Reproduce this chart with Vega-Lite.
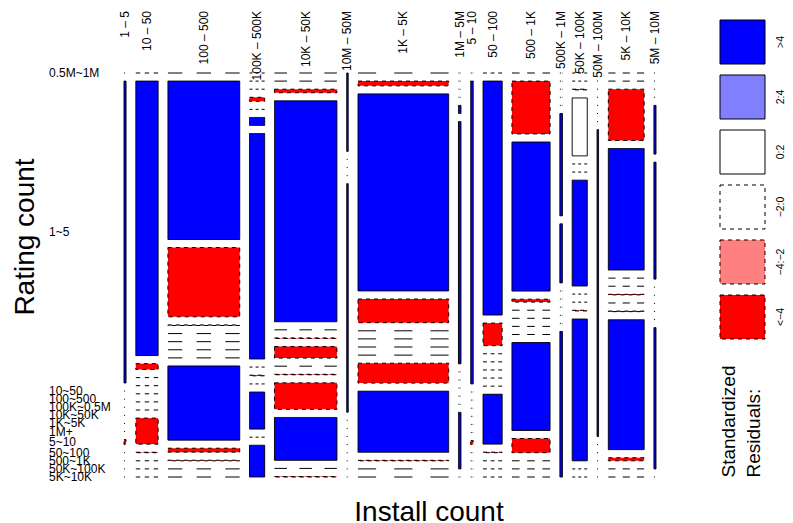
{
  "$schema": "https://vega.github.io/schema/vega-lite/v6.json",
  "autosize": {"type": "pad"},
  "padding": {"left": 11, "top": 11, "right": 0, "bottom": 0},
  "background": "white",
  "config": {"font": "Liberation Sans", "view": {"stroke": null}},
  "spacing": 57,
  "hconcat": [
    {
      "width": 532,
      "height": 457,
      "data": {"values": [
        {"install":"1 – 5","rating":"0.5M~1M","count":0,"residual":"−2:0"},
        {"install":"1 – 5","rating":"1~5","count":61,"residual":">4"},
        {"install":"1 – 5","rating":"10~50","count":0,"residual":"−2:0"},
        {"install":"1 – 5","rating":"100~500","count":0,"residual":"−2:0"},
        {"install":"1 – 5","rating":"100K~0.5M","count":0,"residual":"−2:0"},
        {"install":"1 – 5","rating":"10K~50K","count":0,"residual":"−2:0"},
        {"install":"1 – 5","rating":"1K~5K","count":0,"residual":"−2:0"},
        {"install":"1 – 5","rating":"1M+","count":0,"residual":"−2:0"},
        {"install":"1 – 5","rating":"5~10","count":1,"residual":"<−4"},
        {"install":"1 – 5","rating":"50~100","count":0,"residual":"−2:0"},
        {"install":"1 – 5","rating":"500~1K","count":0,"residual":"−2:0"},
        {"install":"1 – 5","rating":"50K~100K","count":0,"residual":"−2:0"},
        {"install":"1 – 5","rating":"5K~10K","count":0,"residual":"−2:0"},

        {"install":"10 – 50","rating":"0.5M~1M","count":0,"residual":"−2:0"},
        {"install":"10 – 50","rating":"1~5","count":611,"residual":">4"},
        {"install":"10 – 50","rating":"10~50","count":13,"residual":"<−4"},
        {"install":"10 – 50","rating":"100~500","count":0,"residual":"−2:0"},
        {"install":"10 – 50","rating":"100K~0.5M","count":0,"residual":"−2:0"},
        {"install":"10 – 50","rating":"10K~50K","count":0,"residual":"−2:0"},
        {"install":"10 – 50","rating":"1K~5K","count":0,"residual":"−2:0"},
        {"install":"10 – 50","rating":"1M+","count":0,"residual":"−2:0"},
        {"install":"10 – 50","rating":"5~10","count":58,"residual":"<−4"},
        {"install":"10 – 50","rating":"50~100","count":1,"residual":"<−4"},
        {"install":"10 – 50","rating":"500~1K","count":0,"residual":"−2:0"},
        {"install":"10 – 50","rating":"50K~100K","count":0,"residual":"−2:0"},
        {"install":"10 – 50","rating":"5K~10K","count":0,"residual":"−2:0"},

        {"install":"100 – 500","rating":"0.5M~1M","count":0,"residual":"−2:0"},
        {"install":"100 – 500","rating":"1~5","count":1134,"residual":">4"},
        {"install":"100 – 500","rating":"10~50","count":496,"residual":"<−4"},
        {"install":"100 – 500","rating":"100~500","count":4,"residual":"<−4"},
        {"install":"100 – 500","rating":"100K~0.5M","count":0,"residual":"−2:0"},
        {"install":"100 – 500","rating":"10K~50K","count":0,"residual":"−2:0"},
        {"install":"100 – 500","rating":"1K~5K","count":0,"residual":"−2:0"},
        {"install":"100 – 500","rating":"1M+","count":0,"residual":"−2:0"},
        {"install":"100 – 500","rating":"5~10","count":531,"residual":">4"},
        {"install":"100 – 500","rating":"50~100","count":28,"residual":"<−4"},
        {"install":"100 – 500","rating":"500~1K","count":4,"residual":"<−4"},
        {"install":"100 – 500","rating":"50K~100K","count":0,"residual":"−2:0"},
        {"install":"100 – 500","rating":"5K~10K","count":0,"residual":"−2:0"},

        {"install":"100K – 500K","rating":"0.5M~1M","count":0,"residual":"−2:0"},
        {"install":"100K – 500K","rating":"1~5","count":0,"residual":"−2:0"},
        {"install":"100K – 500K","rating":"10~50","count":0,"residual":"−2:0"},
        {"install":"100K – 500K","rating":"100~500","count":6,"residual":"<−4"},
        {"install":"100K – 500K","rating":"100K~0.5M","count":0,"residual":"−2:0"},
        {"install":"100K – 500K","rating":"10K~50K","count":12,"residual":">4"},
        {"install":"100K – 500K","rating":"1K~5K","count":341,"residual":">4"},
        {"install":"100K – 500K","rating":"1M+","count":0,"residual":"−2:0"},
        {"install":"100K – 500K","rating":"5~10","count":1,"residual":"<−4"},
        {"install":"100K – 500K","rating":"50~100","count":0,"residual":"−2:0"},
        {"install":"100K – 500K","rating":"500~1K","count":56,"residual":">4"},
        {"install":"100K – 500K","rating":"50K~100K","count":0,"residual":"−2:0"},
        {"install":"100K – 500K","rating":"5K~10K","count":48,"residual":">4"},

        {"install":"10K – 50K","rating":"0.5M~1M","count":0,"residual":"−2:0"},
        {"install":"10K – 50K","rating":"1~5","count":0,"residual":"−2:0"},
        {"install":"10K – 50K","rating":"10~50","count":22,"residual":"<−4"},
        {"install":"10K – 50K","rating":"100~500","count":1376,"residual":">4"},
        {"install":"10K – 50K","rating":"100K~0.5M","count":0,"residual":"−2:0"},
        {"install":"10K – 50K","rating":"10K~50K","count":3,"residual":"<−4"},
        {"install":"10K – 50K","rating":"1K~5K","count":72,"residual":"<−4"},
        {"install":"10K – 50K","rating":"1M+","count":0,"residual":"−2:0"},
        {"install":"10K – 50K","rating":"5~10","count":3,"residual":"<−4"},
        {"install":"10K – 50K","rating":"50~100","count":165,"residual":"<−4"},
        {"install":"10K – 50K","rating":"500~1K","count":267,"residual":">4"},
        {"install":"10K – 50K","rating":"50K~100K","count":0,"residual":"−2:0"},
        {"install":"10K – 50K","rating":"5K~10K","count":3,"residual":"<−4"},

        {"install":"10M – 50M","rating":"0.5M~1M","count":12,"residual":">4"},
        {"install":"10M – 50M","rating":"1~5","count":0,"residual":"−2:0"},
        {"install":"10M – 50M","rating":"10~50","count":0,"residual":"−2:0"},
        {"install":"10M – 50M","rating":"100~500","count":0,"residual":"−2:0"},
        {"install":"10M – 50M","rating":"100K~0.5M","count":35,"residual":">4"},
        {"install":"10M – 50M","rating":"10K~50K","count":0,"residual":"−2:0"},
        {"install":"10M – 50M","rating":"1K~5K","count":0,"residual":"−2:0"},
        {"install":"10M – 50M","rating":"1M+","count":0,"residual":"−2:0"},
        {"install":"10M – 50M","rating":"5~10","count":0,"residual":"−2:0"},
        {"install":"10M – 50M","rating":"50~100","count":0,"residual":"−2:0"},
        {"install":"10M – 50M","rating":"500~1K","count":0,"residual":"−2:0"},
        {"install":"10M – 50M","rating":"50K~100K","count":0,"residual":"−2:0"},
        {"install":"10M – 50M","rating":"5K~10K","count":0,"residual":"−2:0"},

        {"install":"1K – 5K","rating":"0.5M~1M","count":0,"residual":"−2:0"},
        {"install":"1K – 5K","rating":"1~5","count":43,"residual":"<−4"},
        {"install":"1K – 5K","rating":"10~50","count":1781,"residual":">4"},
        {"install":"1K – 5K","rating":"100~500","count":214,"residual":"<−4"},
        {"install":"1K – 5K","rating":"100K~0.5M","count":0,"residual":"−2:0"},
        {"install":"1K – 5K","rating":"10K~50K","count":0,"residual":"−2:0"},
        {"install":"1K – 5K","rating":"1K~5K","count":0,"residual":"−2:0"},
        {"install":"1K – 5K","rating":"1M+","count":0,"residual":"−2:0"},
        {"install":"1K – 5K","rating":"5~10","count":180,"residual":"<−4"},
        {"install":"1K – 5K","rating":"50~100","count":552,"residual":">4"},
        {"install":"1K – 5K","rating":"500~1K","count":4,"residual":"<−4"},
        {"install":"1K – 5K","rating":"50K~100K","count":0,"residual":"−2:0"},
        {"install":"1K – 5K","rating":"5K~10K","count":0,"residual":"−2:0"},

        {"install":"1M – 5M","rating":"0.5M~1M","count":0,"residual":"−2:0"},
        {"install":"1M – 5M","rating":"1~5","count":0,"residual":"−2:0"},
        {"install":"1M – 5M","rating":"10~50","count":0,"residual":"−2:0"},
        {"install":"1M – 5M","rating":"100~500","count":0,"residual":"−2:0"},
        {"install":"1M – 5M","rating":"100K~0.5M","count":2,"residual":">4"},
        {"install":"1M – 5M","rating":"10K~50K","count":60,"residual":">4"},
        {"install":"1M – 5M","rating":"1K~5K","count":0,"residual":"−2:0"},
        {"install":"1M – 5M","rating":"1M+","count":0,"residual":"−2:0"},
        {"install":"1M – 5M","rating":"5~10","count":0,"residual":"−2:0"},
        {"install":"1M – 5M","rating":"50~100","count":0,"residual":"−2:0"},
        {"install":"1M – 5M","rating":"500~1K","count":0,"residual":"−2:0"},
        {"install":"1M – 5M","rating":"50K~100K","count":14,"residual":">4"},
        {"install":"1M – 5M","rating":"5K~10K","count":0,"residual":"−2:0"},

        {"install":"5 – 10","rating":"0.5M~1M","count":0,"residual":"−2:0"},
        {"install":"5 – 10","rating":"1~5","count":76,"residual":">4"},
        {"install":"5 – 10","rating":"10~50","count":0,"residual":"−2:0"},
        {"install":"5 – 10","rating":"100~500","count":0,"residual":"−2:0"},
        {"install":"5 – 10","rating":"100K~0.5M","count":0,"residual":"−2:0"},
        {"install":"5 – 10","rating":"10K~50K","count":0,"residual":"−2:0"},
        {"install":"5 – 10","rating":"1K~5K","count":0,"residual":"−2:0"},
        {"install":"5 – 10","rating":"1M+","count":0,"residual":"−2:0"},
        {"install":"5 – 10","rating":"5~10","count":1,"residual":"<−4"},
        {"install":"5 – 10","rating":"50~100","count":0,"residual":"−2:0"},
        {"install":"5 – 10","rating":"500~1K","count":0,"residual":"−2:0"},
        {"install":"5 – 10","rating":"50K~100K","count":0,"residual":"−2:0"},
        {"install":"5 – 10","rating":"5K~10K","count":0,"residual":"−2:0"},

        {"install":"50 – 100","rating":"0.5M~1M","count":0,"residual":"−2:0"},
        {"install":"50 – 100","rating":"1~5","count":446,"residual":">4"},
        {"install":"50 – 100","rating":"10~50","count":43,"residual":"<−4"},
        {"install":"50 – 100","rating":"100~500","count":0,"residual":"−2:0"},
        {"install":"50 – 100","rating":"100K~0.5M","count":0,"residual":"−2:0"},
        {"install":"50 – 100","rating":"10K~50K","count":0,"residual":"−2:0"},
        {"install":"50 – 100","rating":"1K~5K","count":0,"residual":"−2:0"},
        {"install":"50 – 100","rating":"1M+","count":0,"residual":"−2:0"},
        {"install":"50 – 100","rating":"5~10","count":95,"residual":">4"},
        {"install":"50 – 100","rating":"50~100","count":1,"residual":"<−4"},
        {"install":"50 – 100","rating":"500~1K","count":0,"residual":"−2:0"},
        {"install":"50 – 100","rating":"50K~100K","count":0,"residual":"−2:0"},
        {"install":"50 – 100","rating":"5K~10K","count":0,"residual":"−2:0"},

        {"install":"500 – 1K","rating":"0.5M~1M","count":0,"residual":"−2:0"},
        {"install":"500 – 1K","rating":"1~5","count":201,"residual":"<−4"},
        {"install":"500 – 1K","rating":"10~50","count":567,"residual":">4"},
        {"install":"500 – 1K","rating":"100~500","count":11,"residual":"<−4"},
        {"install":"500 – 1K","rating":"100K~0.5M","count":0,"residual":"−2:0"},
        {"install":"500 – 1K","rating":"10K~50K","count":0,"residual":"−2:0"},
        {"install":"500 – 1K","rating":"1K~5K","count":0,"residual":"−2:0"},
        {"install":"500 – 1K","rating":"1M+","count":0,"residual":"−2:0"},
        {"install":"500 – 1K","rating":"5~10","count":334,"residual":">4"},
        {"install":"500 – 1K","rating":"50~100","count":54,"residual":"<−4"},
        {"install":"500 – 1K","rating":"500~1K","count":0,"residual":"−2:0"},
        {"install":"500 – 1K","rating":"50K~100K","count":0,"residual":"−2:0"},
        {"install":"500 – 1K","rating":"5K~10K","count":0,"residual":"−2:0"},

        {"install":"500K – 1M","rating":"0.5M~1M","count":0,"residual":"−2:0"},
        {"install":"500K – 1M","rating":"1~5","count":0,"residual":"−2:0"},
        {"install":"500K – 1M","rating":"10~50","count":0,"residual":"−2:0"},
        {"install":"500K – 1M","rating":"100~500","count":0,"residual":"−2:0"},
        {"install":"500K – 1M","rating":"100K~0.5M","count":0,"residual":"−2:0"},
        {"install":"500K – 1M","rating":"10K~50K","count":26,"residual":">4"},
        {"install":"500K – 1M","rating":"1K~5K","count":15,"residual":">4"},
        {"install":"500K – 1M","rating":"1M+","count":0,"residual":"−2:0"},
        {"install":"500K – 1M","rating":"5~10","count":0,"residual":"−2:0"},
        {"install":"500K – 1M","rating":"50~100","count":0,"residual":"−2:0"},
        {"install":"500K – 1M","rating":"500~1K","count":0,"residual":"−2:0"},
        {"install":"500K – 1M","rating":"50K~100K","count":0,"residual":"−2:0"},
        {"install":"500K – 1M","rating":"5K~10K","count":37,"residual":">4"},

        {"install":"50K – 100K","rating":"0.5M~1M","count":0,"residual":"−2:0"},
        {"install":"50K – 100K","rating":"1~5","count":0,"residual":"−2:0"},
        {"install":"50K – 100K","rating":"10~50","count":1,"residual":"<−4"},
        {"install":"50K – 100K","rating":"100~500","count":87,"residual":"0:2"},
        {"install":"50K – 100K","rating":"100K~0.5M","count":0,"residual":"−2:0"},
        {"install":"50K – 100K","rating":"10K~50K","count":0,"residual":"−2:0"},
        {"install":"50K – 100K","rating":"1K~5K","count":159,"residual":">4"},
        {"install":"50K – 100K","rating":"1M+","count":0,"residual":"−2:0"},
        {"install":"50K – 100K","rating":"5~10","count":0,"residual":"−2:0"},
        {"install":"50K – 100K","rating":"50~100","count":1,"residual":"<−4"},
        {"install":"50K – 100K","rating":"500~1K","count":213,"residual":">4"},
        {"install":"50K – 100K","rating":"50K~100K","count":0,"residual":"−2:0"},
        {"install":"50K – 100K","rating":"5K~10K","count":0,"residual":"−2:0"},

        {"install":"50M – 100M","rating":"0.5M~1M","count":0,"residual":"−2:0"},
        {"install":"50M – 100M","rating":"1~5","count":0,"residual":"−2:0"},
        {"install":"50M – 100M","rating":"10~50","count":0,"residual":"−2:0"},
        {"install":"50M – 100M","rating":"100~500","count":0,"residual":"−2:0"},
        {"install":"50M – 100M","rating":"100K~0.5M","count":0,"residual":"−2:0"},
        {"install":"50M – 100M","rating":"10K~50K","count":0,"residual":"−2:0"},
        {"install":"50M – 100M","rating":"1K~5K","count":0,"residual":"−2:0"},
        {"install":"50M – 100M","rating":"1M+","count":46,"residual":">4"},
        {"install":"50M – 100M","rating":"5~10","count":0,"residual":"−2:0"},
        {"install":"50M – 100M","rating":"50~100","count":0,"residual":"−2:0"},
        {"install":"50M – 100M","rating":"500~1K","count":0,"residual":"−2:0"},
        {"install":"50M – 100M","rating":"50K~100K","count":0,"residual":"−2:0"},
        {"install":"50M – 100M","rating":"5K~10K","count":0,"residual":"−2:0"},

        {"install":"5K – 10K","rating":"0.5M~1M","count":0,"residual":"−2:0"},
        {"install":"5K – 10K","rating":"1~5","count":0,"residual":"−2:0"},
        {"install":"5K – 10K","rating":"10~50","count":183,"residual":"<−4"},
        {"install":"5K – 10K","rating":"100~500","count":434,"residual":">4"},
        {"install":"5K – 10K","rating":"100K~0.5M","count":0,"residual":"−2:0"},
        {"install":"5K – 10K","rating":"10K~50K","count":0,"residual":"−2:0"},
        {"install":"5K – 10K","rating":"1K~5K","count":2,"residual":"<−4"},
        {"install":"5K – 10K","rating":"1M+","count":0,"residual":"−2:0"},
        {"install":"5K – 10K","rating":"5~10","count":2,"residual":"<−4"},
        {"install":"5K – 10K","rating":"50~100","count":464,"residual":">4"},
        {"install":"5K – 10K","rating":"500~1K","count":11,"residual":"<−4"},
        {"install":"5K – 10K","rating":"50K~100K","count":0,"residual":"−2:0"},
        {"install":"5K – 10K","rating":"5K~10K","count":0,"residual":"−2:0"},

        {"install":"5M – 10M","rating":"0.5M~1M","count":0,"residual":"−2:0"},
        {"install":"5M – 10M","rating":"1~5","count":0,"residual":"−2:0"},
        {"install":"5M – 10M","rating":"10~50","count":0,"residual":"−2:0"},
        {"install":"5M – 10M","rating":"100~500","count":0,"residual":"−2:0"},
        {"install":"5M – 10M","rating":"100K~0.5M","count":10,"residual":">4"},
        {"install":"5M – 10M","rating":"10K~50K","count":24,"residual":">4"},
        {"install":"5M – 10M","rating":"1K~5K","count":0,"residual":"−2:0"},
        {"install":"5M – 10M","rating":"1M+","count":0,"residual":"−2:0"},
        {"install":"5M – 10M","rating":"5~10","count":0,"residual":"−2:0"},
        {"install":"5M – 10M","rating":"50~100","count":0,"residual":"−2:0"},
        {"install":"5M – 10M","rating":"500~1K","count":0,"residual":"−2:0"},
        {"install":"5M – 10M","rating":"50K~100K","count":29,"residual":">4"},
        {"install":"5M – 10M","rating":"5K~10K","count":0,"residual":"−2:0"}
      ]},
      "transform": [
        {"calculate": "indexof(['1 – 5','10 – 50','100 – 500','100K – 500K','10K – 50K','10M – 50M','1K – 5K','1M – 5M','5 – 10','50 – 100','500 – 1K','500K – 1M','50K – 100K','50M – 100M','5K – 10K','5M – 10M'], datum.install)", "as": "ci"},
        {"calculate": "indexof(['0.5M~1M','1~5','10~50','100~500','100K~0.5M','10K~50K','1K~5K','1M+','5~10','50~100','500~1K','50K~100K','5K~10K'], datum.rating)", "as": "ri"},
        {"stack": "count", "groupby": ["install"], "sort": [{"field": "ri", "order": "ascending"}], "offset": "normalize", "as": ["yf0", "yf1"]},
        {"stack": "count", "groupby": [], "sort": [{"field": "ci", "order": "ascending"}, {"field": "ri", "order": "ascending"}], "offset": "normalize", "as": ["gf0", "gf1"]},
        {"joinaggregate": [{"op": "min", "field": "gf0", "as": "xf0"}, {"op": "max", "field": "gf1", "as": "xf1"}], "groupby": ["install"]},
        {"calculate": "datum.xf0 + datum.ci * 0.0254", "as": "x0"},
        {"calculate": "datum.xf1 + datum.ci * 0.0254", "as": "x1"},
        {"calculate": "datum.yf0 + datum.ri * 0.0264", "as": "y0"},
        {"calculate": "datum.yf1 + datum.ri * 0.0264", "as": "y1"},
        {"calculate": "(datum.x0 + datum.x1) / 2", "as": "xm"},
        {"calculate": "(datum.y0 + datum.y1) / 2", "as": "ym"}
      ],
      "layer": [
        {
          "transform": [{"filter": "datum.count > 0"}],
          "mark": {"type": "rect", "stroke": "black", "strokeWidth": 1,
                   "strokeDash": {"expr": "indexof(['−2:0', '−4:−2', '<−4'], datum.residual) >= 0 ? [4, 4] : [1, 0]"}},
          "encoding": {
            "x": {"field": "x0", "type": "quantitative", "scale": {"domain": [0, 1.381], "nice": false, "zero": false},
                  "axis": {"orient": "bottom", "labels": false, "ticks": false, "domain": false, "grid": false, "title": "Install count", "titleFontSize": 28, "titleFontWeight": "normal", "titleColor": "black", "titleX": 304.5, "titleY": 21, "titleAlign": "center", "titleBaseline": "top"}},
            "x2": {"field": "x1"},
            "y": {"field": "y0", "type": "quantitative", "scale": {"domain": [-0.17275, 1.3168], "nice": false, "zero": false, "reverse": true},
                  "axis": {"orient": "left", "labels": false, "ticks": false, "domain": false, "grid": false, "title": "Rating count", "titleFontSize": 28, "titleFontWeight": "normal", "titleColor": "black", "titleX": -85, "titleY": 216.5, "titleAngle": 270, "titleAlign": "center", "titleBaseline": "bottom"}},
            "y2": {"field": "y1"},
            "fill": {"field": "residual", "type": "nominal", "legend": null,
                     "scale": {"domain": [">4", "2:4", "0:2", "−2:0", "−4:−2", "<−4"], "range": ["#0000ff", "#8080ff", "#ffffff", "#ffffff", "#ff8080", "#ff0000"]}}
          }
        },
        {
          "transform": [{"filter": "datum.count == 0"}],
          "mark": {"type": "rule", "color": "black", "strokeWidth": 1, "strokeDash": {"expr": "[max((datum.x1 - datum.x0) * 77, 1), max((datum.x1 - datum.x0) * 77, 1)]"}},
          "encoding": {
            "x": {"field": "x0", "type": "quantitative",
                  "axis": {"orient": "bottom", "labels": false, "ticks": false, "domain": false, "grid": false, "title": "Install count", "titleFontSize": 28, "titleFontWeight": "normal", "titleColor": "black", "titleX": 304.5, "titleY": 21, "titleAlign": "center", "titleBaseline": "top"}},
            "x2": {"field": "x1"},
            "y": {"field": "y0", "type": "quantitative",
                  "axis": {"orient": "left", "labels": false, "ticks": false, "domain": false, "grid": false, "title": "Rating count", "titleFontSize": 28, "titleFontWeight": "normal", "titleColor": "black", "titleX": -85, "titleY": 216.5, "titleAngle": 270, "titleAlign": "center", "titleBaseline": "bottom"}}
          }
        },
        {
          "transform": [{"filter": "datum.ri == 0"}],
          "mark": {"type": "text", "angle": 270, "align": "right", "baseline": "middle", "dx": 62, "fontSize": 12, "color": "black"},
          "encoding": {
            "x": {"field": "xm", "type": "quantitative",
                  "axis": {"orient": "bottom", "labels": false, "ticks": false, "domain": false, "grid": false, "title": "Install count", "titleFontSize": 28, "titleFontWeight": "normal", "titleColor": "black", "titleX": 304.5, "titleY": 21, "titleAlign": "center", "titleBaseline": "top"}},
            "y": {"datum": 0, "type": "quantitative",
                  "axis": {"orient": "left", "labels": false, "ticks": false, "domain": false, "grid": false, "title": "Rating count", "titleFontSize": 28, "titleFontWeight": "normal", "titleColor": "black", "titleX": -85, "titleY": 216.5, "titleAngle": 270, "titleAlign": "center", "titleBaseline": "bottom"}},
            "text": {"field": "install"}
          }
        },
        {
          "transform": [{"filter": "datum.ci == 0"}],
          "mark": {"type": "text", "align": "left", "baseline": "middle", "dx": -75, "fontSize": 12, "color": "black"},
          "encoding": {
            "x": {"datum": 0, "type": "quantitative",
                  "axis": {"orient": "bottom", "labels": false, "ticks": false, "domain": false, "grid": false, "title": "Install count", "titleFontSize": 28, "titleFontWeight": "normal", "titleColor": "black", "titleX": 304.5, "titleY": 21, "titleAlign": "center", "titleBaseline": "top"}},
            "y": {"field": "ym", "type": "quantitative",
                  "axis": {"orient": "left", "labels": false, "ticks": false, "domain": false, "grid": false, "title": "Rating count", "titleFontSize": 28, "titleFontWeight": "normal", "titleColor": "black", "titleX": -85, "titleY": 216.5, "titleAngle": 270, "titleAlign": "center", "titleBaseline": "bottom"}},
            "text": {"field": "rating"}
          }
        }
      ]
    },
    {
      "width": 45,
      "height": 319,
      "data": {"values": [
        {"residual": ">4"}, {"residual": "2:4"}, {"residual": "0:2"},
        {"residual": "−2:0"}, {"residual": "−4:−2"}, {"residual": "<−4"}
      ]},
      "mark": {"type": "rect", "stroke": "black", "strokeWidth": 1,
               "strokeDash": {"expr": "indexof(['−2:0', '−4:−2', '<−4'], datum.residual) >= 0 ? [4, 4] : [1, 0]"}},
      "encoding": {
        "y": {"field": "residual", "type": "nominal", "sort": [">4", "2:4", "0:2", "−2:0", "−4:−2", "<−4"],
              "scale": {"domain": [">4", "2:4", "0:2", "−2:0", "−4:−2", "<−4"], "paddingInner": 0.2, "paddingOuter": 0},
              "axis": {"orient": "right", "title": null, "ticks": false, "tickSize": 0, "domain": false, "grid": false, "labelAngle": 270, "labelAlign": "center", "labelBaseline": "top", "labelPadding": 10, "labelFontSize": 10.5, "labelColor": "black"}},
        "x": {"datum": 0, "type": "quantitative", "scale": {"domain": [0, 1], "nice": false},
              "axis": {"orient": "bottom", "labels": false, "ticks": false, "domain": false, "grid": false, "title": ["Standardized", "Residuals:"], "titleFontSize": 19, "titleFontWeight": "normal", "titleColor": "black", "titleAngle": 270, "titleAlign": "left", "titleBaseline": "top", "titleLineHeight": 25, "titleX": -1, "titleY": 138}},
        "x2": {"datum": 1},
        "fill": {"field": "residual", "type": "nominal", "legend": null,
                 "scale": {"domain": [">4", "2:4", "0:2", "−2:0", "−4:−2", "<−4"], "range": ["#0000ff", "#8080ff", "#ffffff", "#ffffff", "#ff8080", "#ff0000"]}}
      }
    }
  ]
}
